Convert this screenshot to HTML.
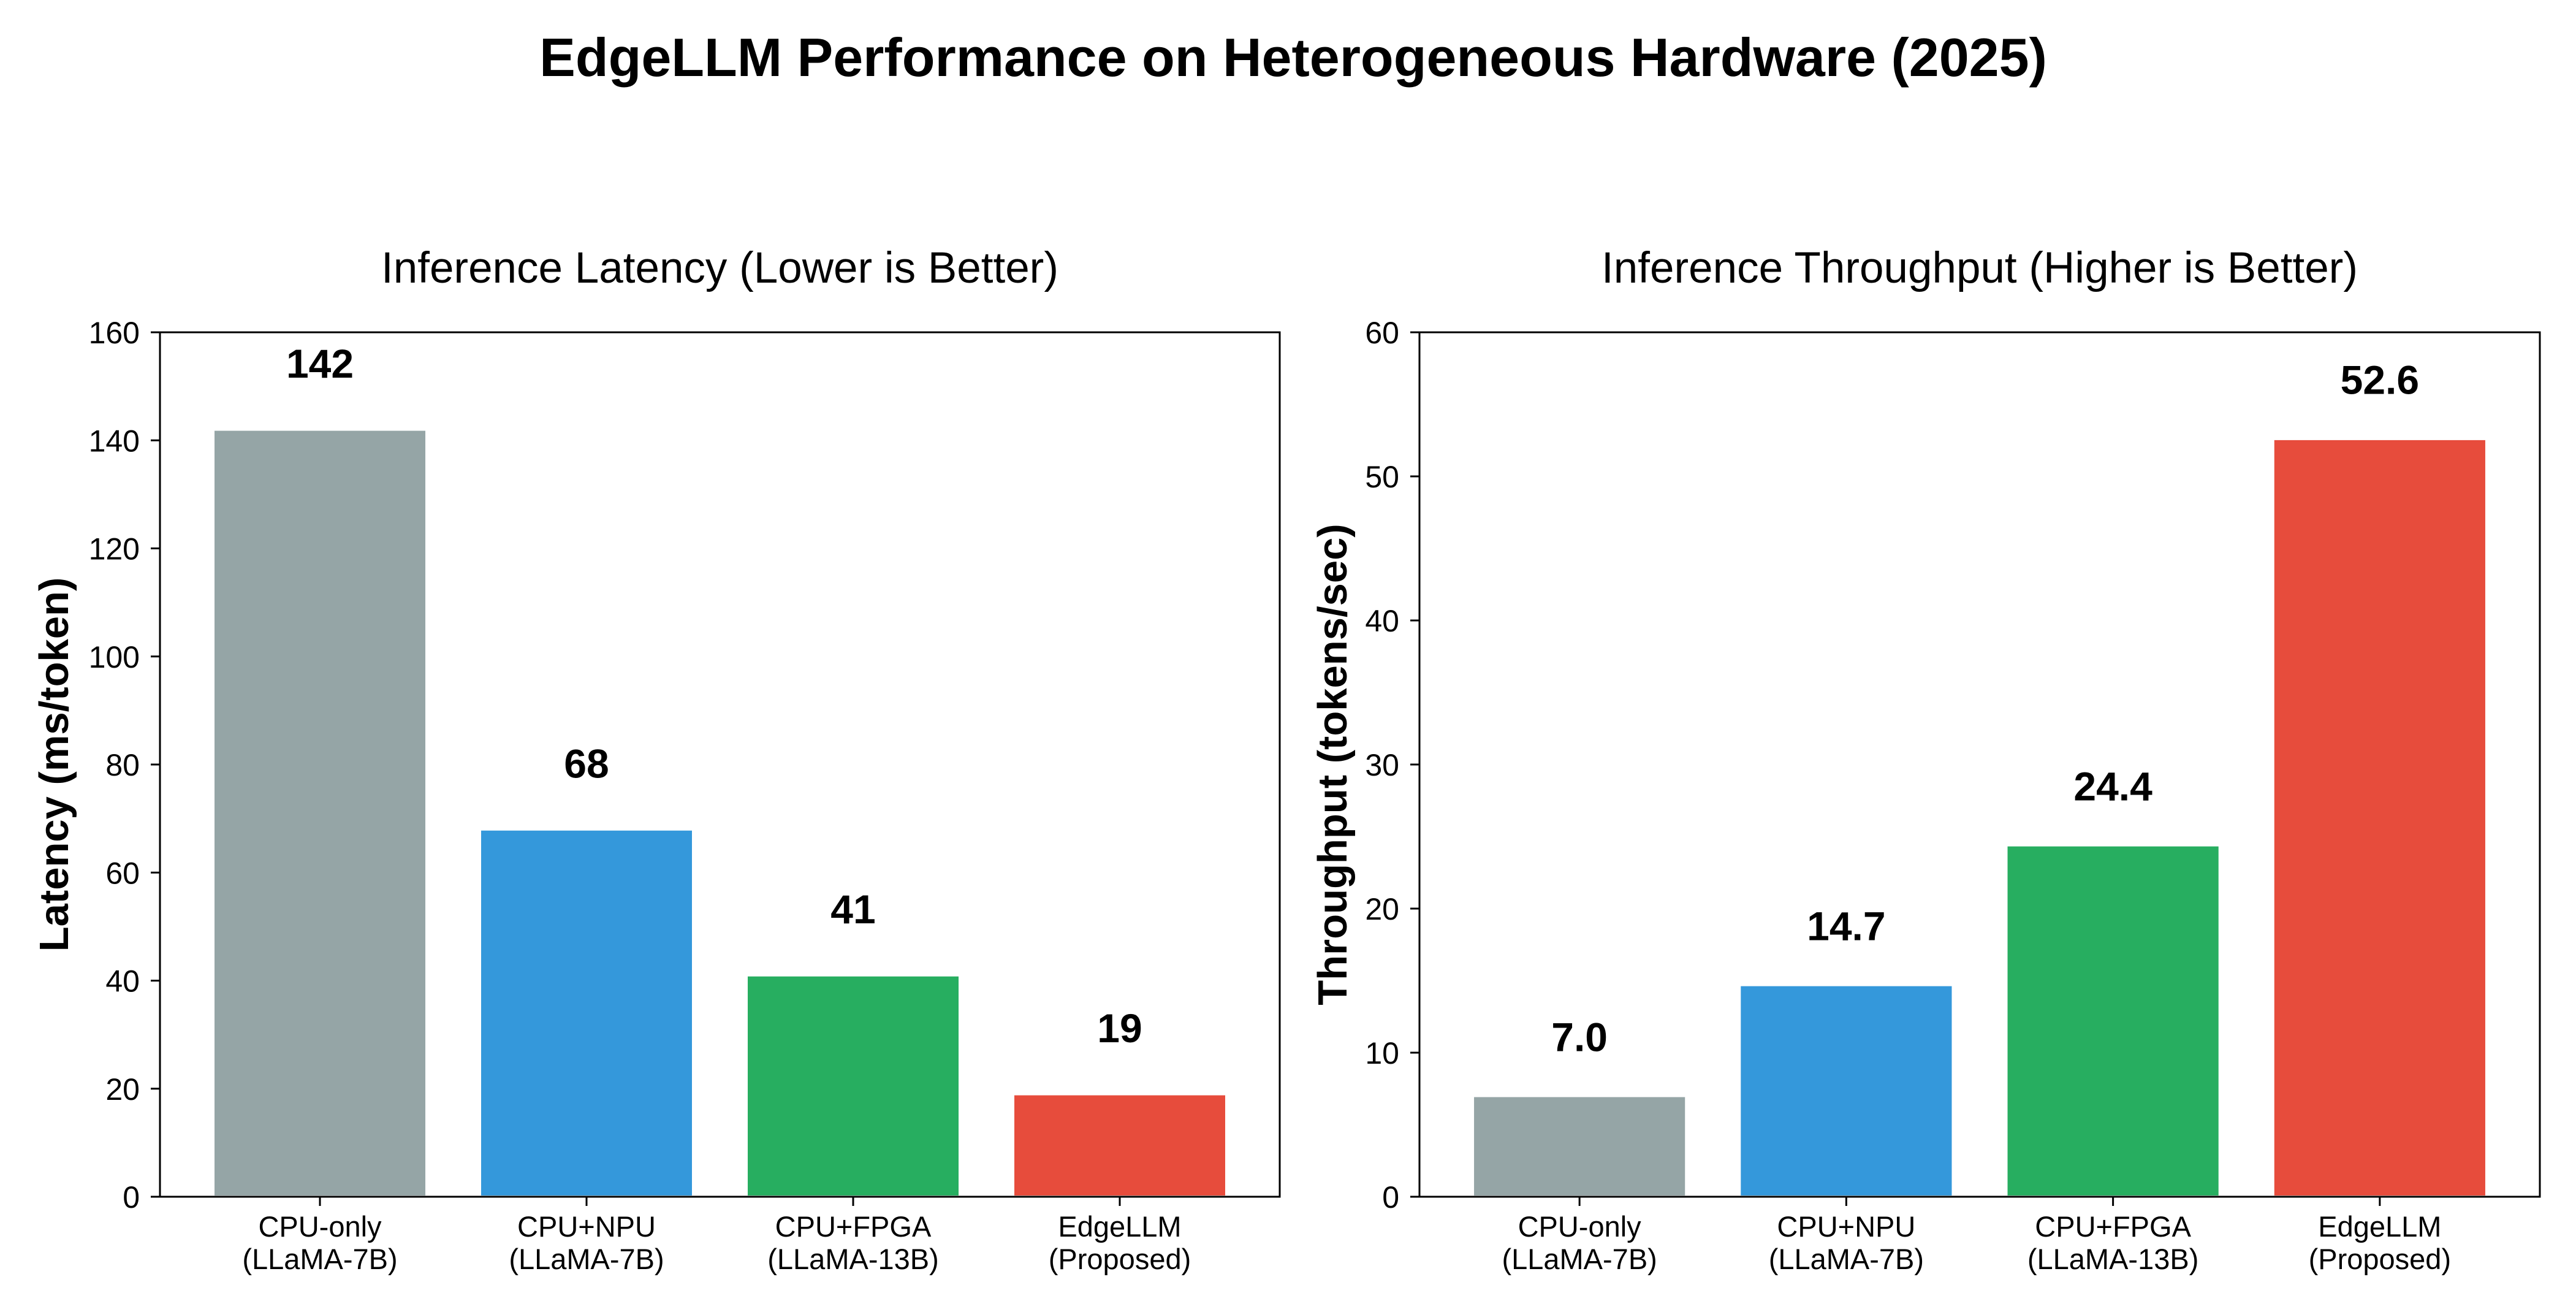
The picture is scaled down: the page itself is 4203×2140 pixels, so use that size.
<!DOCTYPE html>
<html><head><meta charset="utf-8"><style>
html,body{margin:0;padding:0;background:#fff;}
svg{display:block;font-family:"Liberation Sans",Arial,sans-serif;}
</style></head><body>
<svg id="fig" width="4203" height="2140" viewBox="0 0 4203 2140" xmlns="http://www.w3.org/2000/svg">
<rect width="4203" height="2140" fill="#fff"/>
<text x="2110" y="124" font-size="88" font-weight="bold" text-anchor="middle">EdgeLLM Performance on Heterogeneous Hardware (2025)</text>
<g id="p1"></g>
<g id="p2"></g>
</svg>
<script>
const categories = ["CPU-only|(LLaMA-7B)", "CPU+NPU|(LLaMA-7B)", "CPU+FPGA|(LLaMA-13B)", "EdgeLLM|(Proposed)"];
const latencyValues = [142, 68, 41, 19];
const latencyLabels = ["142", "68", "41", "19"];
const latencyTicks = [0, 20, 40, 60, 80, 100, 120, 140, 160];
const throughputValues = [7.0, 14.7, 24.4, 52.6];
const throughputLabels = ["7.0", "14.7", "24.4", "52.6"];
const throughputTicks = [0, 10, 20, 30, 40, 50, 60];
const barColors = ["#95a5a6", "#3498db", "#27ae60", "#e74c3c"];

const NS = "http://www.w3.org/2000/svg";
function mk(tag, attrs, parent, text) {
  const e = document.createElementNS(NS, tag);
  for (const k in attrs) e.setAttribute(k, attrs[k]);
  if (text !== undefined) e.textContent = text;
  parent.appendChild(e);
  return e;
}
function panel(g, x0, x1, y0, y1, values, labels, ticks, title, ylabel, ylabelX, offFrac) {
  const ymax = ticks[ticks.length - 1];
  const ys = v => y1 - (v / ymax) * (y1 - y0);
  const unit = (x1 - x0) / 4.2;
  const xs = i => x0 + (i + 0.6) * unit;
  const t = mk("text", {x: (x0 + x1) / 2, y: 461, "font-size": 71, "text-anchor": "middle"}, g, title);
  
  
  const yl = mk("text", {x: 0, y: 0, "font-size": 67, "font-weight": "bold", "text-anchor": "middle", transform: `translate(${ylabelX + 22},${(y0 + y1) / 2}) rotate(-90)`}, g, ylabel);
  
  
  values.forEach((v, i) => {
    const bw = 0.8 * unit;
    const r = mk("rect", {x: xs(i) - bw / 2, y: ys(v), width: bw, height: y1 - ys(v), fill: barColors[i], stroke: "#fff", "stroke-width": 4}, g);
    
    
    const lb = mk("text", {x: xs(i), y: ys(v + ymax * offFrac) - 14, "font-size": 66, "font-weight": "bold", "text-anchor": "middle"}, g, labels[i]);
    
    
    mk("line", {x1: xs(i), x2: xs(i), y1: y1, y2: y1 + 15, stroke: "#000", "stroke-width": 3}, g);
    const parts = categories[i].split("|");
    const xt = mk("text", {x: xs(i), y: 2017, "font-size": 47, "text-anchor": "middle"}, g);
    
    
    mk("tspan", {x: xs(i), dy: 0}, xt, parts[0]);
    mk("tspan", {x: xs(i), dy: 53}, xt, parts[1]);
  });
  ticks.forEach(tv => {
    mk("line", {x1: x0 - 15, x2: x0, y1: ys(tv), y2: ys(tv), stroke: "#000", "stroke-width": 3}, g);
    const tl = mk("text", {x: x0 - 33, y: ys(tv) + 18, "font-size": 50, "text-anchor": "end"}, g, String(tv));
    
    
  });
  const fr = mk("rect", {x: x0, y: y0, width: x1 - x0, height: y1 - y0, fill: "none", stroke: "#000", "stroke-width": 3}, g);
  
  
}
panel(document.getElementById("p1"), 261, 2088, 542, 1952, latencyValues, latencyLabels, latencyTicks, "Inference Latency (Lower is Better)", "Latency (ms/token)", 89, 0.05);
panel(document.getElementById("p2"), 2316, 4144, 542, 1952, throughputValues, throughputLabels, throughputTicks, "Inference Throughput (Higher is Better)", "Throughput (tokens/sec)", 2175, 0.042);
</script>
</body></html>
